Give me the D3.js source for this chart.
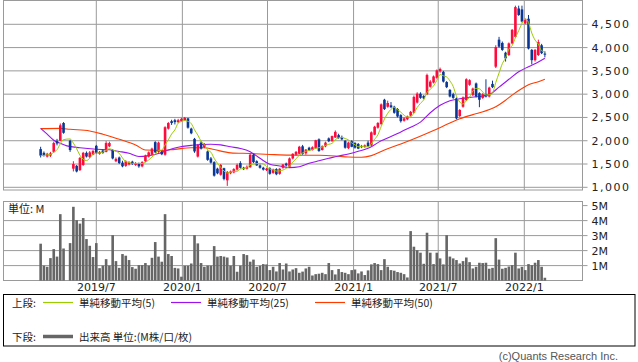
<!DOCTYPE html>
<html lang="ja">
<head>
<meta charset="utf-8">
<title>週足チャート</title>
<script src="https://cdn.jsdelivr.net/npm/d3@7"></script>
<style>
  body { margin: 0; background: #fff; }
  svg text { font-family: "DejaVu Sans", sans-serif; font-size: 11px; fill: #222; }
  svg text.jp { font-family: "Noto Sans CJK JP", sans-serif; font-size: 10.5px; }
</style>
</head>
<body>
<script>

// weekly bars, first week starts Monday 2019/3/4 (null = no trading that week)
var firstWeek = new Date(2019, 2, 4);

var open = [1820,1740,1660,1680,1760,1990,2000,2380,null,2000,1400,1460,1370,1480,1740,1650,1700,1890,1720,1790,
  1760,1880,1800,1560,1640,1530,1460,1490,1550,1480,1510,1450,1560,1660,1700,1970,1760,1770,1700,2260,
  2420,2440,2400,2420,2440,2480,2260,2040,1660,1960,1860,1770,1620,1540,1400,1270,1410,1150,1300,1320,
  1380,1520,1420,1400,1430,1700,1560,1470,1420,1370,1410,1310,1390,1290,1420,1510,1440,1620,1700,1720,
  1880,1730,1850,1800,1840,2030,1800,1880,2050,1990,2070,2120,2080,2000,1840,1990,1950,1930,1860,1870,
  1960,1900,2130,2280,2360,2880,2730,2760,2730,2680,2550,2430,2460,2540,2600,2820,3010,2960,3000,3160,
  3250,3350,3490,3480,3260,3090,3000,2910,2530,2730,2870,3200,2980,3230,3020,2920,3000,2950,3220,3590,
  4170,4100,3890,3840,4090,4230,4840,4820,4520,4620,3950,3730,3840,4050,3870];
var high = [1870,1770,1740,1760,1980,2040,2370,2400,null,2020,1560,1480,1650,1760,1770,1780,1800,1910,1780,1810,
  1990,1980,1820,1640,1660,1570,1580,1560,1570,1540,1530,1560,1700,1770,1850,1990,1980,1790,2310,2400,
  2450,2470,2470,2490,2510,2490,2280,2060,1930,1990,1950,1790,1650,1560,1420,1500,1420,1350,1360,1410,
  1510,1560,1440,1470,1720,1720,1580,1490,1440,1420,1430,1400,1410,1410,1500,1530,1640,1730,1780,1890,
  1910,1820,1870,1880,2020,2050,1900,1980,2070,2110,2220,2150,2110,2010,1980,2010,1970,1950,1910,1920,
  2000,2200,2320,2400,2800,2900,2860,2830,2750,2700,2570,2500,2540,2640,2970,3040,3040,2980,3440,3300,
  3400,3530,3570,3500,3280,3110,3030,2930,2680,2950,3340,3320,3140,3250,3040,3020,3320,3160,3290,4050,
  4230,4130,3910,4110,4400,4900,4900,4900,4620,4700,3970,3970,4170,4080,3920];
var low = [1640,1660,1640,1650,1740,1900,1990,2150,null,1760,1340,1320,1350,1460,1640,1630,1690,1720,1700,1720,
  1750,1860,1600,1540,1500,1430,1440,1470,1480,1460,1420,1430,1540,1640,1690,1740,1740,1690,1680,2240,
  2340,2350,2380,2410,2430,2260,2140,1740,1640,1810,1840,1570,1510,1230,1280,1250,1150,1030,1280,1300,
  1360,1400,1370,1380,1420,1520,1460,1400,1360,1350,1270,1290,1260,1270,1400,1450,1420,1600,1680,1710,
  1700,1700,1780,1790,1830,1760,1790,1860,1970,1980,2060,2040,2010,1830,1820,1860,1830,1820,1840,1850,
  1870,1880,2120,2260,2340,2660,2710,2700,2580,2500,2390,2410,2440,2520,2590,2800,2900,2890,2980,3140,
  3230,3330,3460,3250,3130,2930,2900,2460,2510,2710,2850,3180,2960,2930,2720,2900,2930,2930,3130,3560,
  4000,3930,3700,3820,4070,4210,4680,4540,4500,3960,3640,3700,3820,3860,3790];
var close = [1680,1690,1720,1730,1950,1940,2330,2170,null,1800,1500,1340,1630,1740,1660,1750,1780,1740,1760,1740,
  1950,1950,1620,1610,1520,1450,1560,1540,1500,1520,1450,1540,1680,1750,1830,1750,1960,1710,2290,2380,
  2380,2400,2440,2470,2490,2280,2160,1770,1910,1830,1910,1590,1530,1250,1300,1480,1180,1330,1340,1390,
  1480,1420,1390,1440,1700,1540,1470,1420,1380,1400,1290,1390,1280,1400,1490,1470,1620,1720,1760,1870,
  1720,1810,1790,1860,2010,1780,1880,1960,1990,2100,2190,2060,2030,1850,1960,1870,1850,1830,1890,1900,
  1880,2180,2300,2380,2780,2680,2810,2720,2600,2520,2420,2480,2520,2620,2940,3010,2920,2910,3410,3270,
  3380,3510,3540,3270,3150,2950,2920,2480,2660,2930,3320,3300,3120,2950,2880,3000,2950,3140,3150,4010,
  4020,3950,3770,4090,4380,4870,4700,4560,4590,3980,3730,3950,4120,3880,3860];

// volume in millions of shares
var volume = [2.46,1.0,0.92,1.5,2.1,1.6,4.43,2.14,null,2.5,4.92,4.03,3.8,4.17,2.77,2.32,1.57,2.5,0.83,1.0,
  1.43,1.0,3.03,1.3,0.85,1.77,1.66,1.37,0.9,0.79,1.03,1.03,1.17,1.0,1.52,2.57,1.6,1.26,4.43,1.77,
  1.64,0.85,0.81,0.26,0.99,0.99,1.14,3.03,2.48,1.17,0.92,1.0,1.0,2.3,1.6,1.64,1.6,1.54,1.0,1.64,
  0.59,1.0,1.77,1.7,1.26,1.4,0.92,0.99,1.1,1.08,0.7,0.92,0.61,1.17,0.74,1.14,0.61,0.74,0.83,0.52,
  0.6,0.81,0.92,0.34,0.43,0.46,0.52,0.43,1.17,0.7,0.41,0.77,0.57,0.52,0.43,0.7,0.74,0.48,0.61,0.37,
  0.68,1.08,1.17,1.1,0.7,1.43,0.92,0.7,0.66,0.57,0.52,0.43,0.21,3.3,2.26,2.03,1.86,1.12,3.19,1.86,
  1.1,1.86,1.48,1.08,3.03,1.6,1.48,1.37,1.14,1.3,1.54,1.23,0.81,0.92,1.19,1.17,1.19,0.79,0.85,2.83,
  1.4,0.79,0.85,0.94,1.03,1.86,0.81,0.92,0.7,1.1,1.03,1.19,1.37,0.92,0.19];

// 25 and 50 week averages: [week index, value]
var ma25 = [[0,2267],[2,2140],[4,2010],[6,1945],[8,1890],[12,1850],[17,1818],[21,1805],[24,1770],[27,1730],
  [30,1660],[33,1680],[36,1725],[39,1800],[42,1860],[46,1900],[49,1920],[52,1925],[55,1910],[58,1870],
  [61,1835],[64,1765],[67,1622],[70,1494],[73,1458],[76,1422],[79,1440],[82,1515],[85,1570],[88,1622],
  [91,1672],[94,1715],[97,1772],[101,1872],[104,2000],[107,2090],[110,2190],[113,2290],[116,2400],[119,2600],
  [122,2760],[125,2860],[128,2900],[131,2930],[134,2950],[137,2990],[140,3150],[143,3320],[146,3480],[149,3590],
  [152,3690],[154,3770]];
var ma50 = [[0,2260],[6,2265],[9,2245],[15,2210],[19,2140],[24,2030],[29,1910],[32,1800],[37,1790],[41,1815],
  [46,1850],[50,1850],[53,1810],[58,1740],[64,1725],[70,1705],[76,1690],[85,1687],[90,1672],[94,1650],
  [98,1645],[101,1680],[105,1800],[110,1930],[115,2070],[120,2220],[125,2380],[128,2470],[132,2560],[134,2600],
  [139,2730],[142,2870],[144,2980],[147,3120],[149,3200],[152,3267],[154,3318]];

var priceTicks = [1000,1500,2000,2500,3000,3500,4000,4500];
var volTicks = [1,2,3,4,5];
var monthTicks = ["2019/7","2020/1","2020/7","2021/1","2021/7","2022/1"];

var upColor = "#ff0a3c", downColor = "#0a3796";
var gridColor = "#9a9a9a";

var weeks = close.map(function(d, i){ return d3.timeDay.offset(firstWeek, 7 * i); });
var parseMonth = d3.timeParse("%Y/%m");

var svg = d3.select("body").append("svg")
    .attr("width", 638)
    .attr("height", 362);

var left = 3.5, right = 582.5;
var priceTop = 0.5, priceBottom = 190;
var volTop = 201.5, volBottom = 280.5;

var x = d3.scaleTime()
    .domain([new Date(2019, 6, 1), new Date(2022, 0, 1)])
    .range([96.3, 524.3]);
var y = d3.scaleLinear().domain([1000, 4500]).range([187.3, 24.3]);
var yv = d3.scaleLinear().domain([0, 4]).range([280.6, 220.6]);

// ---- price panel grid
var gp = svg.append("g");
gp.selectAll("line.h").data(priceTicks).enter().append("line")
    .attr("x1", left).attr("x2", right + 5)
    .attr("y1", function(d){ return y(d); }).attr("y2", function(d){ return y(d); })
    .attr("stroke", gridColor);
gp.selectAll("line.v").data(monthTicks).enter().append("line")
    .attr("x1", function(d){ return x(parseMonth(d)); }).attr("x2", function(d){ return x(parseMonth(d)); })
    .attr("y1", priceTop).attr("y2", priceBottom)
    .attr("stroke", gridColor);
gp.append("rect")
    .attr("x", left).attr("y", priceTop)
    .attr("width", right - left).attr("height", priceBottom - priceTop)
    .attr("fill", "none").attr("stroke", gridColor);

// price labels on the right
svg.append("g")
    .attr("transform", "translate(" + right + ",0)")
    .call(d3.axisRight(y).tickValues(priceTicks).tickFormat(d3.format(",")).tickSize(0).tickPadding(9))
    .call(function(g){ g.select(".domain").remove(); })
    .selectAll("text").style("font-size", "11px").style("letter-spacing", "1.5px").attr("fill", "#222");

// ---- volume panel grid
var gv = svg.append("g");
gv.selectAll("line.h").data(volTicks).enter().append("line")
    .attr("x1", function(d){ return d < 5 ? left : right; }).attr("x2", right + 5)
    .attr("y1", function(d){ return yv(d); }).attr("y2", function(d){ return yv(d); })
    .attr("stroke", gridColor);
gv.selectAll("line.v").data(monthTicks).enter().append("line")
    .attr("x1", function(d){ return x(parseMonth(d)); }).attr("x2", function(d){ return x(parseMonth(d)); })
    .attr("y1", volTop).attr("y2", volBottom)
    .attr("stroke", gridColor);
gv.append("rect")
    .attr("x", left).attr("y", volTop)
    .attr("width", right - left).attr("height", volBottom - volTop)
    .attr("fill", "none").attr("stroke", gridColor);

svg.append("g")
    .attr("transform", "translate(" + right + ",0)")
    .call(d3.axisRight(yv).tickValues(volTicks).tickFormat(function(d){ return d + "M"; }).tickSize(0).tickPadding(9))
    .call(function(g){ g.select(".domain").remove(); })
    .selectAll("text").style("font-size", "11px").attr("fill", "#222");

svg.append("text").attr("class", "jp")
    .attr("x", 8).attr("y", 213)
    .style("font-size", "11px")
    .text("単位: M");

// month labels
svg.selectAll("text.month").data(monthTicks).enter().append("text")
    .attr("class", "month")
    .attr("x", function(d){ return x(parseMonth(d)); })
    .attr("y", 291)
    .attr("text-anchor", "middle")
    .text(function(d){ return d; });

// ---- volume bars
var barW = 2.6;
svg.append("g").selectAll("rect").data(weeks).enter()
    .filter(function(d, i){ return volume[i] != null; })
    .append("rect")
    .attr("x", function(d){ return x(d) - barW / 2; })
    .attr("y", function(d){ return yv(volume[weeks.indexOf(d)]); })
    .attr("width", barW)
    .attr("height", function(d){ return yv(0) - yv(volume[weeks.indexOf(d)]); })
    .attr("fill", "#666");

// ---- moving averages
var ma5 = [];
var valid = [];
close.forEach(function(c, i){
    if (c == null) return;
    valid.push(c);
    var w = valid.slice(-5);
    ma5.push([i, d3.mean(w)]);
});

var line = d3.line()
    .x(function(d){ return x(weeks[d[0]]); })
    .y(function(d){ return y(d[1]); })
    .curve(d3.curveMonotoneX);

svg.append("path").attr("d", line(ma50)).attr("fill", "none").attr("stroke", "#ff3c00").attr("stroke-width", 1.1);
svg.append("path").attr("d", line(ma25)).attr("fill", "none").attr("stroke", "#9a14f0").attr("stroke-width", 1.1);

// ---- candles
var cw = 2.6;
var candles = svg.append("g").selectAll("g").data(weeks).enter()
    .filter(function(d, i){ return close[i] != null; })
    .append("g");
candles.append("line")
    .attr("x1", function(d){ return x(d); }).attr("x2", function(d){ return x(d); })
    .attr("y1", function(d){ return y(high[weeks.indexOf(d)]); })
    .attr("y2", function(d){ return y(low[weeks.indexOf(d)]); })
    .attr("stroke", function(d){ var i = weeks.indexOf(d); return close[i] >= open[i] ? upColor : downColor; })
    .attr("stroke-width", 1);
candles.append("rect")
    .attr("x", function(d){ return x(d) - cw / 2; })
    .attr("y", function(d){ var i = weeks.indexOf(d); return y(Math.max(open[i], close[i])); })
    .attr("width", cw)
    .attr("height", function(d){ var i = weeks.indexOf(d); return Math.max(1, Math.abs(y(open[i]) - y(close[i]))); })
    .attr("fill", function(d){ var i = weeks.indexOf(d); return close[i] >= open[i] ? upColor : downColor; });

svg.append("path").attr("d", line(ma5)).attr("fill", "none").attr("stroke", "#9ccc00").attr("stroke-width", 1);

// ---- legend
var lg = svg.append("g");
lg.append("rect")
    .attr("x", 3.5).attr("y", 294.5).attr("width", 631.5).attr("height", 51.5)
    .attr("fill", "none").attr("stroke", "#000");
lg.append("text").attr("class", "jp").attr("x", 12).attr("y", 307).text("上段:");
lg.append("text").attr("class", "jp").attr("x", 12).attr("y", 341).text("下段:");

var legendItems = [
    {x: 43, color: "#9ccc00", label: "単純移動平均(5)"},
    {x: 171, color: "#9a14f0", label: "単純移動平均(25)"},
    {x: 315, color: "#ff3c00", label: "単純移動平均(50)"}
];
legendItems.forEach(function(d){
    lg.append("line").attr("x1", d.x).attr("x2", d.x + 30).attr("y1", 302.5).attr("y2", 302.5)
        .attr("stroke", d.color).attr("stroke-width", 1.2);
    lg.append("text").attr("class", "jp").attr("x", d.x + 36).attr("y", 307).text(d.label);
});
lg.append("line").attr("x1", 43).attr("x2", 73).attr("y1", 336.5).attr("y2", 336.5)
    .attr("stroke", "#666").attr("stroke-width", 3.5);
lg.append("text").attr("class", "jp").attr("x", 79).attr("y", 341).text("出来高 単位:(M株/口/枚)");

svg.append("text")
    .attr("x", 618).attr("y", 360)
    .attr("text-anchor", "end")
    .style("font-family", "'Liberation Sans', sans-serif")
    .style("fill", "#555")
    .text("(c)Quants Research Inc.");

</script>
</body>
</html>
